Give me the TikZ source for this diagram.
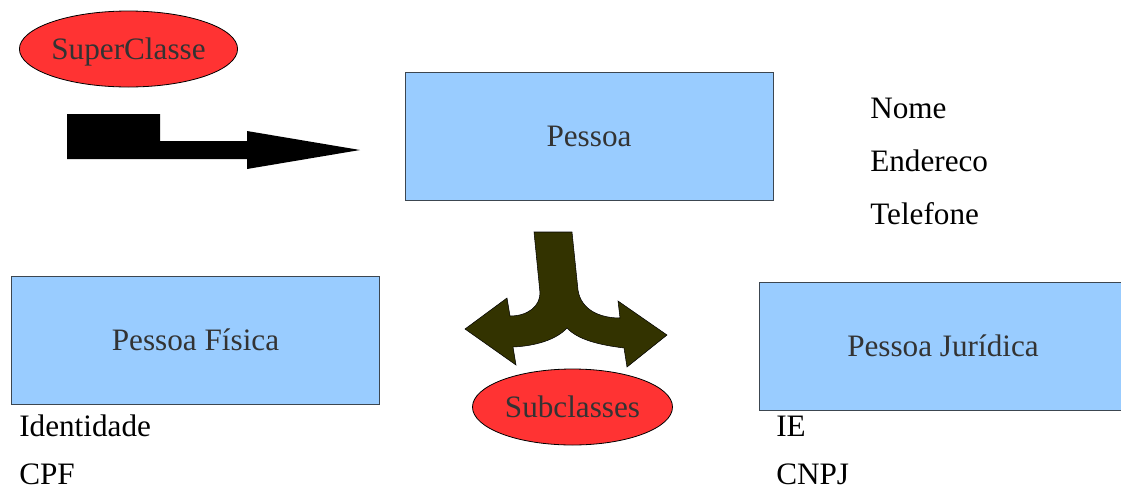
\documentclass[tikz,border=0pt]{standalone}
\usepackage{fontspec}
\setmainfont{Liberation Serif}
\usetikzlibrary{shapes.geometric}
\definecolor{boxblue}{HTML}{99CCFF}
\definecolor{boxline}{HTML}{3C4650}
\definecolor{tagred}{HTML}{FF3333}
\definecolor{olive}{HTML}{333300}
\definecolor{labelgray}{HTML}{333333}
\tikzset{
    classbox/.style={draw=boxline,fill=boxblue,line width=0.6pt,minimum width=276pt,minimum height=96pt,inner sep=0pt,text=labelgray},
    tag/.style={ellipse,draw=black,fill=tagred,line width=0.6pt,minimum width=150pt,minimum height=57pt,inner sep=0pt,text depth=0pt,text=labelgray},
    attr/.style={anchor=base west,inner sep=0pt}
}
\begin{document}
\begin{tikzpicture}[x=0.75pt,y=-0.75pt,font=\fontsize{23.4}{28}\selectfont]
    \useasboundingbox (0,0) rectangle (1121,490);
    \node[tag] (super) at (128.5,49) {SuperClasse};
    \node[tag] (sub) at (572.5,407) {Subclasses};
    \node[classbox] (pessoa) at (589,136) {Pessoa};
    \node[classbox] (fisica) at (195.5,340) {Pessoa Física};
    \node[classbox,minimum width=275pt] (juridica) at (943,346) {Pessoa Jurídica};
    \foreach \n/\t [count=\i] in {nome/Nome,endereco/Endereco,telefone/Telefone}
        \node[attr] (\n) at (870,{118+53*(\i-1)}) {\t};
    \node[attr] (identidade) at (19,436) {Identidade};
    \node[attr] (cpf) at (19,484) {CPF};
    \node[attr] (ie) at (776,436) {IE};
    \node[attr] (cnpj) at (776,484) {CNPJ};
    % arrow towards the superclass
    \fill[black] (67,114) -- (160,114) -- (160,141) -- (247,141) -- (247,131) -- (360,150)
        -- (247,169) -- (247,159) -- (67,159) -- cycle;
    % split arrow towards the subclasses
    \filldraw[fill=olive,draw=black,line width=0.4pt] (534,232) -- (572,232) -- (578,290)
        .. controls (581,310) and (600,318) .. (620,318) -- (618,301) -- (667,335) -- (627,367) -- (624,348)
        .. controls (600,345) and (578,340) .. (567,328)
        .. controls (556,340) and (535,346) .. (513,347) -- (516,365) -- (465,329) -- (507,298) -- (510,316)
        .. controls (528,316) and (540,306) .. (540,293) -- cycle;
\end{tikzpicture}
\end{document}
